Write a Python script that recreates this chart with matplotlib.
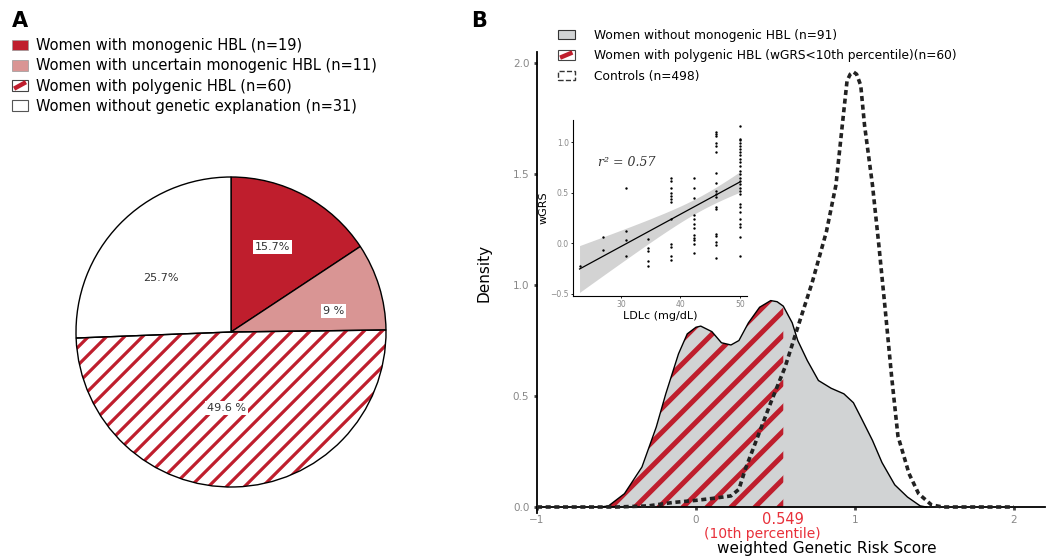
import numpy as np
import matplotlib
matplotlib.use('Agg')
import matplotlib.pyplot as plt
from matplotlib.patches import Patch, Rectangle
from matplotlib.lines import Line2D
from matplotlib.legend_handler import HandlerBase
from matplotlib.transforms import IdentityTransform

plt.rcParams['font.family'] = ['DejaVu Sans']

RED = '#BF1E2D'
PINK = '#D99594'
GREY = '#D1D3D4'
TXT_RED = '#E8303A'

# panel A : pie
pie_labels = ['Women with monogenic HBL (n=19)',
              'Women with uncertain monogenic HBL (n=11)',
              'Women with polygenic HBL (n=60)',
              'Women without genetic explanation (n=31)']
pie_counts = [19, 11, 60, 31]
pie_pct = ['15.7%', '9 %', '49.6 %', '25.7%']

# panel B : density curves
wo_x = [-0.60, -0.55, -0.45, -0.34, -0.25, -0.19, -0.11, -0.055, 0.0, 0.03, 0.10, 0.16,
        0.22, 0.27, 0.33, 0.40, 0.47, 0.51, 0.549, 0.605, 0.64, 0.70, 0.77, 0.85, 0.93,
        0.99, 1.04, 1.11, 1.17, 1.25, 1.33, 1.41, 1.45]
wo_y = [0.0, 0.005, 0.06, 0.18, 0.36, 0.51, 0.69, 0.78, 0.81, 0.815, 0.79, 0.74,
        0.73, 0.75, 0.83, 0.90, 0.93, 0.925, 0.905, 0.83, 0.75, 0.66, 0.57, 0.535, 0.51,
        0.47, 0.40, 0.30, 0.20, 0.10, 0.045, 0.005, 0.0]
ct_x = [-1.0, -0.5, -0.3, -0.15, 0.0, 0.12, 0.22, 0.27, 0.31, 0.39, 0.47, 0.56, 0.64,
        0.73, 0.82, 0.88, 0.92, 0.95, 0.97, 0.99, 1.01, 1.036, 1.06, 1.11, 1.15, 1.19,
        1.23, 1.27, 1.34, 1.40, 1.48, 1.55, 2.0]
ct_y = [0.0, 0.0, 0.005, 0.02, 0.03, 0.04, 0.05, 0.08, 0.17, 0.32, 0.47, 0.63, 0.81,
        1.01, 1.24, 1.45, 1.72, 1.92, 1.95, 1.96, 1.95, 1.90, 1.72, 1.45, 1.18, 0.89,
        0.59, 0.32, 0.15, 0.06, 0.01, 0.0, 0.0]
cutoff = 0.549

# inset scatter : LDLc vs wGRS
ldl_groups = [23.0, 27.0, 30.8, 34.5, 38.4, 42.2, 46.0, 50.0]
wgrs_groups = [
    [-0.22],
    [0.06, -0.07],
    [0.55, 0.12, 0.03, -0.12],
    [0.04, -0.05, -0.08, -0.17, -0.22],
    [0.65, 0.62, 0.55, 0.50, 0.47, 0.44, 0.41, 0.24, -0.01, -0.04, -0.12, -0.16],
    [0.65, 0.55, 0.45, 0.28, 0.24, 0.19, 0.15, 0.08, 0.05, 0.03, -0.01, -0.09],
    [1.10, 1.08, 1.06, 0.99, 0.96, 0.90, 0.70, 0.60, 0.52, 0.49, 0.46, 0.36, 0.34,
     0.09, 0.07, 0.01, -0.02, -0.14],
    [1.16, 1.03, 1.02, 0.99, 0.96, 0.93, 0.90, 0.87, 0.83, 0.80, 0.77, 0.72, 0.69,
     0.65, 0.62, 0.59, 0.55, 0.52, 0.49, 0.39, 0.36, 0.31, 0.24, 0.19, 0.16, 0.06, -0.12],
]

W, H = 1054, 558
fig = plt.figure(figsize=(W / 100, H / 100), dpi=100)


def px_axes(x0, y0, w, h):
    # axes from pixel box (top-left origin)
    return fig.add_axes([x0 / W, 1 - (y0 + h) / H, w / W, h / H])


def hatch_lines(ax, path, trans, spacing, lw, color, z):
    pts = trans.transform(path.vertices)
    x0, y0 = pts.min(axis=0)
    x1, y1 = pts.max(axis=0)
    h = y1 - y0
    for c in np.arange(x0 - h - spacing, x1 + spacing, spacing):
        ln = Line2D([c, c + h + 2], [y0 - 1, y1 + 1], transform=IdentityTransform(),
                    color=color, lw=lw, zorder=z, solid_capstyle='butt')
        ln.set_clip_path(path, trans)
        ax.add_line(ln)


class HatchBox(HandlerBase):
    # white box with one thick red diagonal
    def create_artists(self, legend, orig, xd, yd, w, h, fs, trans):
        r = Rectangle((-xd, -yd), w, h, facecolor='white', edgecolor='#444444',
                      lw=0.8, transform=trans)
        ln = Line2D([-xd + 1.5, -xd + w - 1.5], [-yd + 1.5, -yd + h - 1.5], color=RED,
                    lw=3.2, transform=trans, solid_capstyle='butt')
        return [r, ln]


hatch_handle = Patch(facecolor='white')

# ---------- A ----------
axA = px_axes(71, 172, 320, 320)
wedges, _ = axA.pie(pie_counts, startangle=90, counterclock=False, radius=155 / 160,
                    colors=[RED, PINK, 'none', 'white'],
                    wedgeprops=dict(edgecolor='black', linewidth=1.0))
axA.set_xlim(-1, 1)
axA.set_ylim(-1, 1)
axA.set_aspect('auto')
wedges[2].set_zorder(3)
wp = wedges[2]
hatch_lines(axA, wp.get_path(), wp.get_transform(), 18, 2.3, RED, 2)

pct_pos = [(0.26, 0.53), (0.64, 0.13), (-0.03, -0.475), (-0.44, 0.34)]
for i, (t, (px, py)) in enumerate(zip(pie_pct, pct_pos)):
    box = None if i == 3 else dict(facecolor='white', edgecolor='none', pad=1.5)
    axA.text(px, py, t, ha='center', va='center', fontsize=8, color='#333333',
             bbox=box, zorder=5)

hA = [Patch(facecolor=RED, edgecolor='#999999', lw=0.5),
      Patch(facecolor=PINK, edgecolor='#999999', lw=0.5),
      hatch_handle,
      Patch(facecolor='white', edgecolor='#555555', lw=0.8)]
fig.legend(hA, pie_labels, loc='upper left', bbox_to_anchor=(12 / W, 1 - 38 / H),
           frameon=False, fontsize=10.5, handlelength=1.1, handleheight=0.75,
           handletextpad=0.55, labelspacing=0.36, borderpad=0, borderaxespad=0,
           handler_map={hatch_handle: HatchBox()})
fig.text(20 / W, 1 - 21 / H, 'A', fontsize=15, fontweight='bold', ha='center', va='center')
fig.text(479 / W, 1 - 21 / H, 'B', fontsize=15, fontweight='bold', ha='center', va='center')

# ---------- B ----------
axB = px_axes(537, 52, 508, 461)
axB.set_xlim(-1, 2.195)
axB.set_ylim(-0.027, 2.05)
wo_x = np.array(wo_x)
wo_y = np.array(wo_y)
axB.fill_between(wo_x, 0, wo_y, color=GREY, lw=0, zorder=1)
m = wo_x <= cutoff
poly = axB.fill_between(wo_x[m], 0, wo_y[m], color='none', lw=0, zorder=1)
hatch_lines(axB, poly.get_paths()[0], axB.transData, 24, 3.6, RED, 2)
axB.plot(wo_x, wo_y, color='black', lw=1.0, zorder=3)
axB.plot(ct_x, ct_y, color='#222222', lw=2.6, ls=(0, (1.4, 1.0)), zorder=4)

for s in ['top', 'right']:
    axB.spines[s].set_visible(False)
axB.spines['bottom'].set_position(('data', 0))
axB.spines['left'].set_linewidth(1.3)
axB.spines['bottom'].set_linewidth(1.3)
axB.set_yticks([0, 0.5, 1.0, 1.5, 2.0])
axB.set_yticklabels(['0.0', '0.5', '1.0', '1.5', '2.0'])
axB.set_xticks([-1, 0, 1, 2])
axB.set_xticklabels(['\u22121', '0', '1', '2'])
axB.tick_params(length=2.5, width=2, color='#444444', labelcolor='#888888',
                labelsize=7.5, pad=3)
axB.set_ylabel('Density', fontsize=11)
axB.yaxis.set_label_coords(-0.09, 0.52)
axB.text(cutoff, -0.022, '0.549', color=TXT_RED, fontsize=10.5, ha='center', va='top')
axB.text(0.42, -0.088, '(10th percentile)', color=TXT_RED, fontsize=10, ha='center', va='top')
axB.text(0.82, -0.155, 'weighted Genetic Risk Score', fontsize=11, ha='center', va='top')

hatch_handle_b = Patch(facecolor='white')
hB = [Patch(facecolor=GREY, edgecolor='#333333', lw=0.8),
      hatch_handle_b,
      Patch(facecolor='white', edgecolor='#333333', lw=1.0, ls='--')]
labB = ['Women without monogenic HBL (n=91)',
        'Women with polygenic HBL (wGRS<10th percentile)(n=60)',
        'Controls (n=498)']
fig.legend(hB, labB, loc='upper left', bbox_to_anchor=(558 / W, 1 - 29 / H),
           frameon=False, fontsize=8.8, handlelength=1.35, handleheight=0.8,
           handletextpad=1.6, labelspacing=0.6, borderpad=0, borderaxespad=0,
           handler_map={hatch_handle_b: HatchBox()})

# ---------- inset ----------
axI = px_axes(573, 120, 174, 176)
lx = np.concatenate([[x] * len(g) for x, g in zip(ldl_groups, wgrs_groups)])
ly = np.concatenate(wgrs_groups)
axI.scatter(lx, ly, s=3, color='black', zorder=3, linewidths=0)
b, a = np.polyfit(lx, ly, 1)
xs = np.linspace(lx.min(), lx.max(), 60)
n = len(lx)
resid = ly - (a + b * lx)
sd = np.sqrt(np.sum(resid ** 2) / (n - 2))
se = sd * np.sqrt(1 / n + (xs - lx.mean()) ** 2 / np.sum((lx - lx.mean()) ** 2))
axI.fill_between(xs, a + b * xs - 1.98 * se, a + b * xs + 1.98 * se, color='#C8C8C8',
                 alpha=0.8, lw=0, zorder=1)
axI.plot(xs, a + b * xs, color='black', lw=0.9, zorder=2)
axI.set_xlim(21.9, 51.2)
axI.set_ylim(-0.52, 1.22)
axI.set_xticks([30, 40, 50])
axI.set_yticks([-0.5, 0.0, 0.5, 1.0])
axI.set_yticklabels(['\u22120.5', '0.0', '0.5', '1.0'])
for s in ['top', 'right']:
    axI.spines[s].set_visible(False)
axI.tick_params(length=1.5, width=0.6, labelsize=5.5, labelcolor='#888888', pad=1.5)
axI.set_xlabel('LDLc (mg/dL)', fontsize=8, labelpad=1)
axI.set_ylabel('wGRS', fontsize=8, labelpad=1)
axI.text(30.9, 0.80, 'r\u00b2 = 0.57', fontsize=9, family='DejaVu Serif', style='italic',
         ha='center', va='center', color='#333333')

fig.savefig('out.png', dpi=100)
